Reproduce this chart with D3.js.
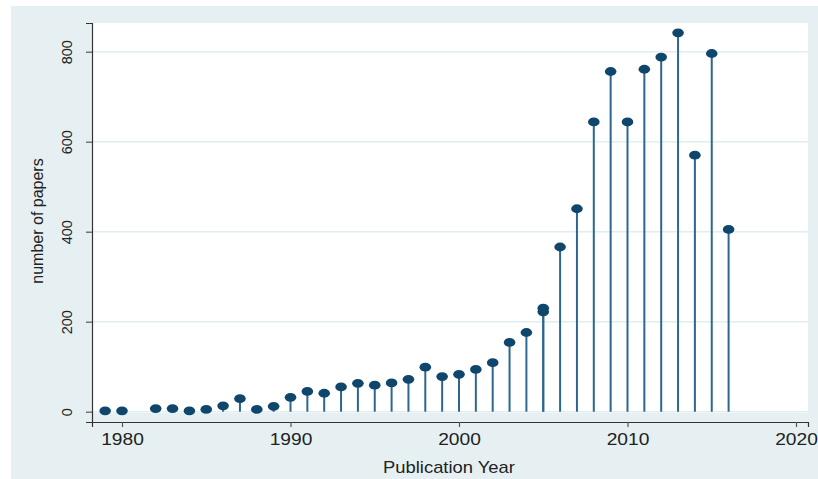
<!DOCTYPE html>
<html>
<head>
<meta charset="utf-8">
<script src="https://cdn.jsdelivr.net/npm/d3@7"></script>
<style>
  html, body { margin: 0; padding: 0; background: #ffffff; }
  svg { display: block; }
  text { font-family: "Liberation Sans", Arial, sans-serif; fill: #222; }
</style>
</head>
<body>
<svg id="chart" width="818" height="479"></svg>
<script>
// ---- data ----
const years  = [1979, 1980, 1982, 1983, 1984, 1985, 1986, 1987, 1988, 1989,
                1990, 1991, 1992, 1993, 1994, 1995, 1996, 1997, 1998, 1999,
                2000, 2001, 2002, 2003, 2004, 2005, 2005, 2006, 2007, 2008,
                2009, 2010, 2011, 2012, 2013, 2014, 2015, 2016];
const papers = [2, 2, 7, 7, 2, 5, 13, 29, 5, 12,
                32, 45, 41, 55, 63, 59, 64, 72, 99, 78,
                83, 94, 109, 154, 176, 222, 230, 366, 451, 644,
                756, 644, 761, 788, 842, 570, 796, 405];
const xTicks = [1980, 1990, 2000, 2010, 2020];
const yTicks = [0, 200, 400, 600, 800];
const xTitle = "Publication Year";
const yTitle = "number of papers";

// ---- layout ----
const svg = d3.select("#chart");
const W = 818, H = 479;
const bg = "#e6f0f2";
const plot = { left: 92, right: 808, top: 23, bottom: 413 };
const xAxisY = 422;

const x = d3.scaleLinear().domain([1980, 2020]).range([122, 796]);
const y = d3.scaleLinear().domain([0, 800]).range([411.7, 51.7]);

// outer graph region
svg.append("rect").attr("x", 11).attr("y", 6).attr("width", W - 11).attr("height", H - 6).attr("fill", bg);
// plot region
svg.append("rect").attr("x", plot.left).attr("y", plot.top)
  .attr("width", plot.right - plot.left).attr("height", plot.bottom - plot.top).attr("fill", "#ffffff");

// gridlines
svg.append("g").selectAll("line").data(yTicks).join("line")
  .attr("x1", plot.left).attr("x2", plot.right)
  .attr("y1", d => y(d)).attr("y2", d => y(d))
  .attr("stroke", "#e2edf0").attr("stroke-width", 1.5);

// axes
const xAxisScale = x.copy().domain([x.invert(plot.left), x.invert(plot.right)]).range([plot.left, plot.right]);
const gx = svg.append("g").attr("transform", `translate(0,${xAxisY})`)
  .call(d3.axisBottom(xAxisScale).tickValues(xTicks).tickSizeOuter(0).tickSize(5).tickFormat(d3.format("d")));
gx.select(".domain").attr("stroke", "#333").attr("stroke-width", 1.2);
gx.selectAll(".tick line").attr("stroke", "#555").attr("stroke-width", 1.2);
gx.selectAll(".tick text")
  .attr("y", 23).attr("dy", 0)
  .attr("transform", "scale(1.2,1)")
  .style("font-size", "16px").style("font-family", "Liberation Sans, Arial, sans-serif").attr("fill", "#222");

const yAxisScale = y.copy().domain([y.invert(xAxisY), y.invert(plot.top)]).range([xAxisY, plot.top]);
const gy = svg.append("g").attr("transform", `translate(${plot.left},0)`)
  .call(d3.axisLeft(yAxisScale).tickValues(yTicks).tickSizeOuter(0).tickSize(6));
gy.select(".domain").attr("stroke", "#333").attr("stroke-width", 1.2);
gy.selectAll(".tick line").attr("stroke", "#555").attr("stroke-width", 1.2);
gy.selectAll(".tick text")
  .attr("x", 0).attr("y", -20).attr("dy", 0)
  .attr("transform", "rotate(-90)")
  .attr("text-anchor", "middle")
  .style("font-size", "14.5px").style("font-family", "Liberation Sans, Arial, sans-serif").attr("fill", "#222");

// titles
svg.append("text").attr("transform", "translate(449,473) scale(1.15,1)")
  .attr("text-anchor", "middle").style("font-size", "16px").text(xTitle);
svg.append("text").attr("transform", "translate(43,221) rotate(-90)")
  .attr("text-anchor", "middle").style("font-size", "16px").text(yTitle);

// stems
const data = years.map((yr, i) => ({ year: yr, value: papers[i] }));
svg.append("g").selectAll("line").data(data).join("line")
  .attr("x1", d => x(d.year)).attr("x2", d => x(d.year))
  .attr("y1", y(0)).attr("y2", d => y(d.value))
  .attr("stroke", "#2d6791").attr("stroke-width", 2);

// markers
svg.append("g").selectAll("ellipse").data(data).join("ellipse")
  .attr("cx", d => x(d.year)).attr("cy", d => y(d.value))
  .attr("rx", 5.8).attr("ry", 4.4)
  .attr("fill", "#0f466c");
</script>
</body>
</html>
